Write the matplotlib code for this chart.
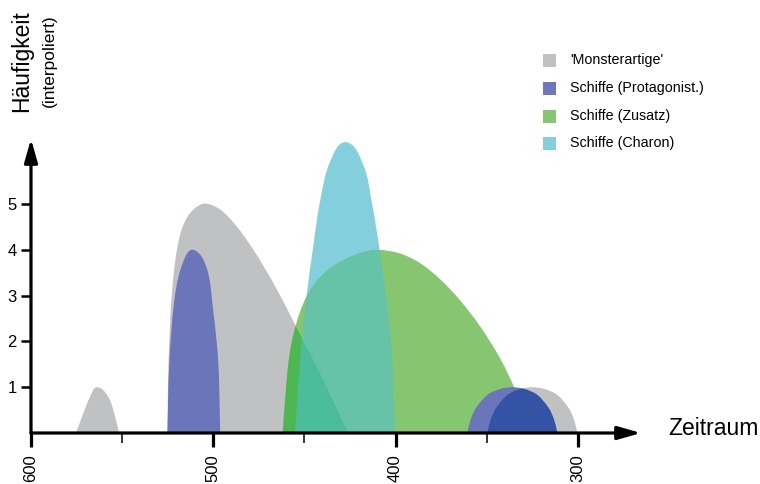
import math
import matplotlib
matplotlib.use("Agg")
import matplotlib.pyplot as plt
from matplotlib.patches import Rectangle, PathPatch
from matplotlib.path import Path
from matplotlib.ticker import FixedLocator

plt.rcParams["font.family"] = ["Liberation Sans", "DejaVu Sans"]

# ---- outlines of the interpolated frequency bumps (x = Zeitraum, y = Häufigkeit) ----
monster_small_x = [575.3, 571.3, 567.6, 563.8, 557.6, 553.9, 551.7]
monster_small_y = [0.0, 0.43, 0.79, 1.0, 0.79, 0.36, 0.0]

monster_big_x = [525.1, 524.6, 522.8, 519.5, 514.5, 506.0, 497.0, 488.0, 478.0, 466.0, 452.0, 439.0, 426.2]
monster_big_y = [0.0, 1.5, 3.0, 4.1, 4.7, 5.0, 4.9, 4.55, 4.0, 3.2, 2.12, 1.1, 0.0]

monster_late_x = [349.7, 347.8, 344.5, 337.2, 325.0, 312.8, 305.5, 302.2, 300.3]
monster_late_y = [0.0, 0.3, 0.57, 0.87, 1.0, 0.87, 0.57, 0.3, 0.0]

protag_early_x = [525.2, 524.1, 521.0, 516.5, 511.0, 503.6, 500.0, 497.3, 496.2]
protag_early_y = [0.0, 1.56, 3.01, 3.74, 4.0, 3.60, 2.65, 1.56, 0.0]

protag_late_x = [360.7, 358.8, 355.5, 348.2, 336.0, 323.8, 316.5, 313.2, 311.3]
protag_late_y = [0.0, 0.3, 0.57, 0.87, 1.0, 0.87, 0.57, 0.3, 0.0]

zusatz_x = [461.9, 460.7, 457.9, 452.4, 445.1, 436.0, 426.8, 418.0, 409.5, 397.6,
            386.6, 375.6, 364.7, 353.7, 342.7, 334.4, 329.0, 327.1]
zusatz_y = [0.0, 0.68, 1.78, 2.65, 3.23, 3.60, 3.81, 3.95, 4.0, 3.92,
            3.71, 3.36, 2.90, 2.33, 1.63, 0.94, 0.29, 0.0]

charon_x = [455.2, 452.1, 448.8, 445.1, 441.5, 436.0, 427.2, 417.7, 413.1, 408.6, 404.9, 402.1, 400.3]
charon_y = [0.0, 1.78, 3.01, 4.10, 5.05, 5.92, 6.35, 5.85, 5.05, 3.96, 2.87, 1.78, 0.0]

legend_labels = ["'Monsterartige'", "Schiffe (Protagonist.)", "Schiffe (Zusatz)", "Schiffe (Charon)"]
legend_colors = ["#c0c1c3", "#6d78bb", "#86c670", "#83d0dc"]

x_major_ticks = [600, 500, 400, 300]
x_minor_ticks = [550, 450, 350]
y_ticks = [1, 2, 3, 4, 5]

GRAY, BLUE, GREEN, CYAN = "#c0c1c3", "#6b75b9", "#86c670", "#83d0dc"
GREEN_ON_GRAY = "#4db852"
CYAN_ON_GREEN = "#4cc2d6"
BLUE_ON_GRAY = "#3553a4"

W, H = 760, 484
AX_LEFT, AX_RIGHT, AX_BOTTOM, AX_TOP = 31, 641, 433, 139
XLIM, YLIM = (600, 265.4), (0, 6.42)

fig = plt.figure(figsize=(W / 100, H / 100), dpi=100)
ax = fig.add_axes([AX_LEFT / W, (H - AX_BOTTOM) / H, (AX_RIGHT - AX_LEFT) / W, (AX_BOTTOM - AX_TOP) / H])
ax.set_xlim(*XLIM)
ax.set_ylim(*YLIM)

# pixel scale of each axis, used to shape the curve tangents evenly on screen
SX = (AX_RIGHT - AX_LEFT) / abs(XLIM[1] - XLIM[0])
SY = (AX_BOTTOM - AX_TOP) / (YLIM[1] - YLIM[0])


def smooth_outline(xs, ys):
    """Closed Bezier outline through the points, with tangents taken from the
    neighbouring points and handle lengths proportional to the segment length."""
    pts = [(x * SX, y * SY) for x, y in zip(xs, ys)]
    n = len(pts)
    tangents = []
    for i in range(n):
        a = pts[max(i - 1, 0)]
        b = pts[min(i + 1, n - 1)]
        dx, dy = b[0] - a[0], b[1] - a[1]
        L = math.hypot(dx, dy) or 1.0
        tangents.append((dx / L, dy / L))
    verts = [pts[0]]
    codes = [Path.MOVETO]
    for i in range(n - 1):
        p1, p2 = pts[i], pts[i + 1]
        d = math.hypot(p2[0] - p1[0], p2[1] - p1[1]) / 3
        c1 = (p1[0] + tangents[i][0] * d, p1[1] + tangents[i][1] * d)
        c2 = (p2[0] - tangents[i + 1][0] * d, p2[1] - tangents[i + 1][1] * d)
        verts += [c1, c2, p2]
        codes += [Path.CURVE4] * 3
    verts += [pts[0], pts[0]]
    codes += [Path.LINETO, Path.CLOSEPOLY]
    verts = [(vx / SX, vy / SY) for vx, vy in verts]
    return Path(verts, codes)


def bump(x, y, color, clip=None, **kw):
    patch = PathPatch(smooth_outline(x, y), facecolor=color, edgecolor="none", linewidth=0, **kw)
    ax.add_patch(patch)
    if clip is not None:
        patch.set_clip_path(clip)
    return patch


g_small = bump(monster_small_x, monster_small_y, GRAY)
g_big = bump(monster_big_x, monster_big_y, GRAY)
g_late = bump(monster_late_x, monster_late_y, GRAY)

c_all = bump(charon_x, charon_y, CYAN)
z_all = bump(zusatz_x, zusatz_y, GREEN)
# green where it lies on the grey bump
bump(zusatz_x, zusatz_y, GREEN_ON_GRAY, clip=g_big)
# translucent cyan where it lies on the green bump
bump(charon_x, charon_y, CYAN_ON_GREEN, clip=z_all, alpha=0.55)

bump(protag_early_x, protag_early_y, BLUE)
bump(protag_late_x, protag_late_y, BLUE)
bump(protag_late_x, protag_late_y, BLUE_ON_GRAY, clip=g_late)

# axes drawn as arrows
for s in ax.spines.values():
    s.set_visible(False)
arrow = dict(arrowstyle="-|>,head_length=1.4,head_width=0.4", lw=2.3, color="black",
             shrinkA=0, shrinkB=0, clip_on=False)
ax.annotate("", xy=(1, 0), xytext=(0, 0), xycoords="axes fraction", arrowprops=arrow,
            annotation_clip=False)
ax.annotate("", xy=(0, 1), xytext=(0, 0), xycoords="axes fraction", arrowprops=arrow,
            annotation_clip=False)

ax.xaxis.set_major_locator(FixedLocator(x_major_ticks))
ax.xaxis.set_minor_locator(FixedLocator(x_minor_ticks))
ax.set_xticklabels([str(v) for v in x_major_ticks], rotation=90)
ax.yaxis.set_major_locator(FixedLocator(y_ticks))
ax.set_yticklabels([str(v) for v in y_ticks])
ax.tick_params(axis="x", which="major", length=10, width=2.3, pad=5.0, labelsize=12)
ax.tick_params(axis="x", which="minor", length=7, width=1.1)
ax.tick_params(axis="y", which="major", length=7, width=1.8, pad=3.2, labelsize=12)

# axis titles
fig.text(22 / W, 1 - 61 / H, "Häufigkeit", rotation=90, ha="center", va="center", fontsize=16.5)
fig.text(49.5 / W, 1 - 61 / H, "(interpoliert)", rotation=90, ha="center", va="center", fontsize=12.5)
fig.text(668 / W, 1 - 435 / H, "Zeitraum", ha="left", va="baseline", fontsize=16.5)

# legend
row_y = [60, 88, 116, 143]
for label, color, ry in zip(legend_labels, legend_colors, row_y):
    fig.patches.append(Rectangle((543 / W, 1 - (ry + 6.5) / H), 13 / W, 13 / H,
                                 transform=fig.transFigure, facecolor=color, edgecolor="none"))
    fig.text(570 / W, 1 - ry / H, label, ha="left", va="center", fontsize=10.3)

fig.savefig("out.png", dpi=100)
